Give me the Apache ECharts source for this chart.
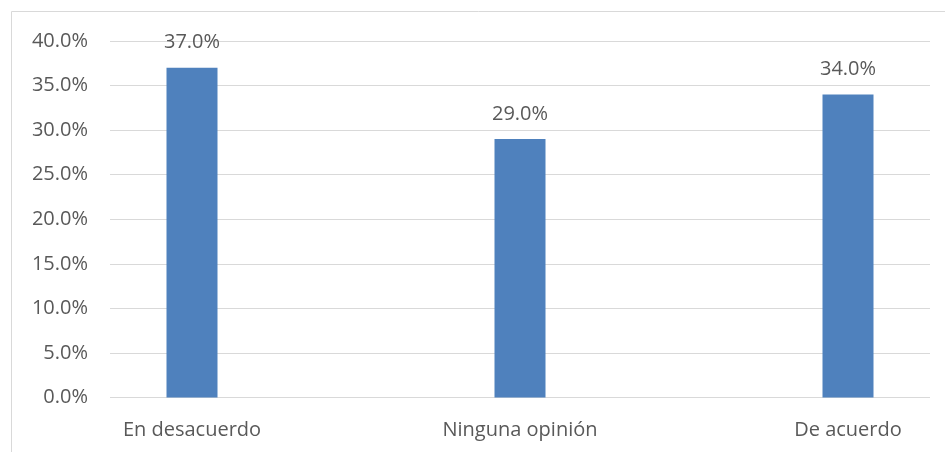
<!DOCTYPE html>
<html><head><meta charset="utf-8">
<script src="https://cdn.jsdelivr.net/npm/echarts@6/dist/echarts.min.js"></script>
<style>html,body{margin:0;padding:0;background:#fff}#c{width:945px;height:452px}</style>
</head><body><div id="c"></div>
<script>
const categories = ['En desacuerdo', 'Ninguna opinión', 'De acuerdo'];
const values = [0.37, 0.29, 0.34];
const yTicks = [0, 0.05, 0.10, 0.15, 0.20, 0.25, 0.30, 0.35, 0.40];

const txt = '#595959';
const font = 'Open Sans';
const fs = 20;
const chart = echarts.init(document.getElementById('c'), null, {renderer: 'canvas'});
chart.setOption({
  animation: false,
  graphic: [{type: 'rect', shape: {x: 11.5, y: 11.5, width: 1200, height: 1200}, style: {fill: 'none', stroke: '#d9d9d9', lineWidth: 1}, silent: true, z: -10}],
  grid: {left: 110, right: 15, top: 41, bottom: 54.5, containLabel: false},
  xAxis: {type: 'value', min: -0.25, max: 2.25, axisLine: {show: false}, axisTick: {show: false}, splitLine: {show: false},
    axisLabel: {customValues: categories.map((c, i) => i), color: txt, fontFamily: font, fontSize: fs, margin: 23,
      formatter: v => categories[Math.round(v)] || ''}},
  yAxis: {type: 'value', min: yTicks[0], max: yTicks[yTicks.length - 1], interval: 0.05,
     axisLine: {show: false}, axisTick: {show: false},
     splitLine: {lineStyle: {color: '#d9d9d9', width: 1}},
     axisLabel: {color: txt, fontFamily: font, fontSize: fs, margin: 22, formatter: v => (v * 100).toFixed(1) + '%'}},
  series: [{
    type: 'bar', data: values.map((v, i) => [i, v]), barWidth: 51,
    itemStyle: {color: '#4f81bd'},
    label: {show: true, position: 'top', distance: 15, color: txt, fontFamily: font, fontSize: fs,
      formatter: p => (p.value[1] * 100).toFixed(1) + '%'}
  }]
});
</script></body></html>
